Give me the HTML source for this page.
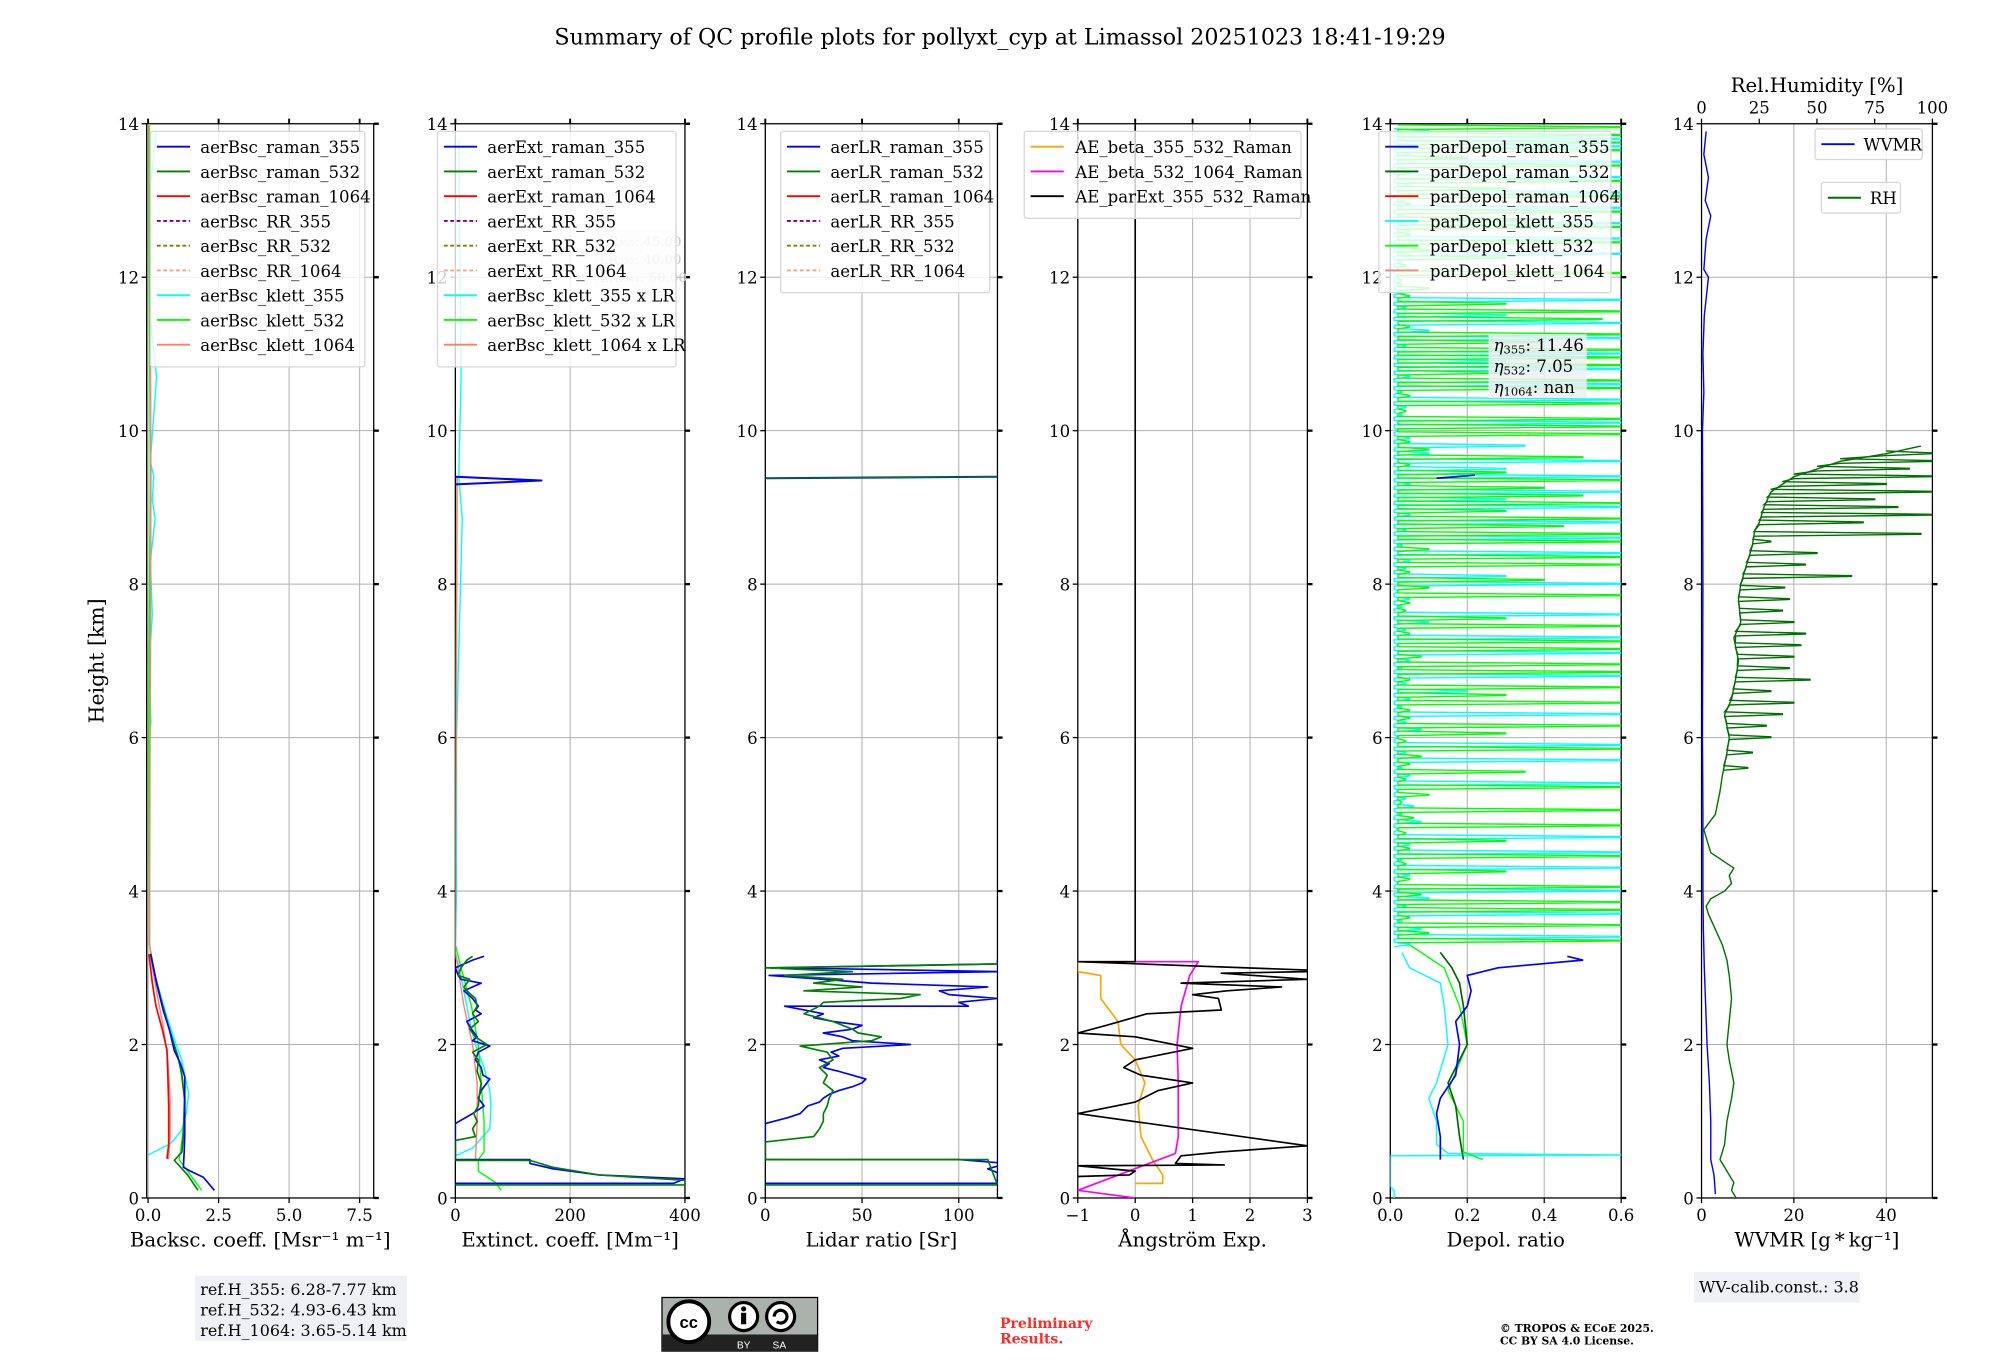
<!DOCTYPE html>
<html><head><meta charset="utf-8">
<style>
html,body{margin:0;padding:0;background:#fff;}
svg{display:block;font-family:"DejaVu Serif","Liberation Serif",serif;}
</style></head>
<body>
<svg id="fig" width="2000" height="1360" viewBox="0 0 1568 1066" preserveAspectRatio="none" xmlns="http://www.w3.org/2000/svg">
<rect x="0" y="0" width="1568" height="1066" fill="#fff"/>
<text x="784" y="35" font-size="17.4" text-anchor="middle">Summary of QC profile plots for pollyxt_cyp at Limassol 20251023 18:41-19:29</text>
<text x="0" y="0" font-size="16" text-anchor="middle" transform="translate(81,518) rotate(-90)">Height [km]</text>
<g id="plots"></g>
<g>
<rect x="153" y="1000" width="166" height="51" fill="#eff0f5"/>
<text x="157" y="1015" font-size="12.5">ref.H_355: 6.28-7.77 km</text>
<text x="157" y="1031" font-size="12.5">ref.H_532: 4.93-6.43 km</text>
<text x="157" y="1047" font-size="12.5">ref.H_1064: 3.65-5.14 km</text>
</g>
<g>
<rect x="519" y="1017" width="122" height="42" fill="#aab2ab" stroke="#000" stroke-width="1"/>
<rect x="519" y="1046" width="122" height="13" fill="#222"/>
<circle cx="540" cy="1036" r="16" fill="#fff" stroke="#000" stroke-width="3"/>
<text x="540" y="1041" font-size="13" font-weight="bold" text-anchor="middle" font-family="Liberation Sans, sans-serif">cc</text>
<circle cx="583" cy="1032" r="11" fill="#fff" stroke="#000" stroke-width="2.5"/>
<circle cx="583" cy="1026" r="2" fill="#000"/><rect x="581" y="1029" width="4" height="9" fill="#000"/>
<circle cx="612" cy="1032" r="11" fill="#fff" stroke="#000" stroke-width="2.5"/>
<path d="M607 1032 a5 5 0 1 1 2 4" fill="none" stroke="#000" stroke-width="2.5"/>
<text x="583" y="1057" font-size="8" fill="#fff" text-anchor="middle" font-family="Liberation Sans, sans-serif">BY</text>
<text x="611" y="1057" font-size="8" fill="#fff" text-anchor="middle" font-family="Liberation Sans, sans-serif">SA</text>
</g>
<text font-size="11" font-weight="bold" fill="#ff2a2a"><tspan x="784" y="1041">Preliminary</tspan><tspan x="784" y="1053">Results.</tspan></text>
<text font-size="8.5" font-weight="bold"><tspan x="1176" y="1044">© TROPOS &amp; ECoE 2025.</tspan><tspan x="1176" y="1054">CC BY SA 4.0 License.</tspan></text>
<g>
<rect x="1328" y="997" width="130" height="24" fill="#eff0f5"/>
<text x="1332" y="1013" font-size="12.5">WV-calib.const.: 3.8</text>
</g>
</svg>
<script>
// ---------- data ----------
const heightTicks=[0,2,4,6,8,10,12,14];
const bscTicks=[0,2.5,5,7.5], bscTickLabels=["0.0","2.5","5.0","7.5"];
const extTicks=[0,200,400], extTickLabels=["0","200","400"];
const lrTicks=[0,50,100], lrTickLabels=["0","50","100"];
const aeTicks=[-1,0,1,2,3], aeTickLabels=["\u22121","0","1","2","3"];
const dpTicks=[0,0.2,0.4,0.6], dpTickLabels=["0.0","0.2","0.4","0.6"];
const wvTicks=[0,20,40], wvTickLabels=["0","20","40"];
const rhTicks=[0,25,50,75,100], rhTickLabels=["0","25","50","75","100"];

// backscatter [Mm-1 sr-1]
const bsc355H=[0.1,0.27,0.35,0.4,0.6,0.84,1.2,1.58,1.75,1.92,2.2,2.44,2.8,3.18];
const bsc355V=[2.35,1.96,1.5,1.25,1.28,1.3,1.3,1.3,1.15,0.93,0.75,0.54,0.3,0.09];
const bsc532H=[0.1,0.3,0.49,0.6,0.84,1.27,1.6,1.84,2.2,2.6,2.9,3.18];
const bsc532V=[1.77,1.4,0.93,1.2,1.25,1.3,1.2,1.06,0.75,0.45,0.25,0.09];
const bsc1064H=[0.51,0.7,1.2,1.6,1.93,2.2,2.5,2.8,3.18];
const bsc1064V=[0.67,0.73,0.73,0.7,0.67,0.5,0.28,0.15,0.03];
const bscK355H=[0.56,0.71,0.88,1.1,1.36,1.6,1.8,2.1,2.36,2.7,3.0,3.3,4,5,6,6.2,7,7.6,8.3,8.85,9.1,9.4,9.6,10.7,11.5,12.5,13.2,13.9];
const bscK355V=[0,0.8,1.19,1.35,1.44,1.3,1.19,0.9,0.67,0.4,0.15,0.05,0.05,0.04,0.05,0.1,0.04,0.15,0.08,0.25,0.15,0.2,0.08,0.3,0.06,0.1,0.08,0.3];
const bscK532H=[0.1,0.3,0.5,0.6,0.9,1.3,1.7,2.1,2.5,2.9,3.3,6,9.4,14];
const bscK532V=[1.9,1.5,1.1,1.15,1.25,1.28,1.15,0.85,0.5,0.25,0.05,0.02,0.08,0.02];
const bscK1064H=[0.5,0.8,1.3,1.8,2.2,2.6,3.0,3.3,9.4,14];
const bscK1064V=[0.72,0.78,0.78,0.7,0.55,0.35,0.15,0.05,0.1,0.05];

// extinction [Mm-1]
const ext355H=[0.19,0.19,0.25,0.3,0.38,0.45,0.5,0.5,0.97,1.1,1.2,1.3,1.4,1.5,1.55,1.6,1.7,1.8,1.9,1.98,2.05,2.1,2.2,2.3,2.4,2.45,2.5,2.6,2.7,2.8,2.85,2.9,3.0,3.1,3.15];
const ext355V=[0,380,400,250,170,130,130,0,0,30,50,40,45,55,60,48,45,35,40,60,30,38,28,20,45,35,40,30,15,45,10,5,0,30,50];
const ext532H=[0.17,0.17,0.23,0.3,0.4,0.49,0.49,0.75,0.8,0.9,1.0,1.1,1.2,1.35,1.5,1.65,1.8,1.9,2.0,2.1,2.2,2.3,2.4,2.5,2.6,2.7,2.75,2.85,2.9,3.0,3.1,3.15];
const ext532V=[0,400,400,250,170,130,0,0,35,30,38,32,40,42,45,38,40,30,55,35,25,40,30,38,35,20,15,25,5,10,20,30];
const ext9H=[9.3,9.35,9.4], ext9V=[0,150,0];
const extK355H=[0.55,0.65,0.9,1.2,1.4,1.7,2.0,2.3,2.5,2.8,3.2,4,6,8.85,9.4,10.7,13.8];
const extK355V=[0,30,60,62,60,50,35,25,20,12,0,2,2,12,6,10,6];
const extK532H=[0.1,0.2,0.35,0.5,0.6,1.0,1.5,2.0,2.5,3.0,3.3,9.4];
const extK532V=[80,70,40,40,50,50,45,40,28,10,0,3];
const extK1064H=[0.5,1.0,1.5,2.0,2.5,3.2,9.4];
const extK1064V=[35,38,38,30,15,0,3];

// lidar ratio [sr]
const lr355H=[0.19,0.19,0.33,0.38,0.45,0.5,0.5,0.97,1.05,1.1,1.2,1.25,1.3,1.35,1.4,1.45,1.5,1.55,1.6,1.65,1.7,1.75,1.8,1.85,1.9,1.95,2.0,2.05,2.1,2.15,2.2,2.25,2.3,2.35,2.4,2.45,2.5,2.5,2.55,2.6,2.65,2.7,2.75,2.8,2.85,2.9,2.95,3.0,3.05,3.1];
const lr355V=[0,120,120,115,125,100,0,0,12,18,22,28,30,33,38,45,50,52,45,38,30,33,28,38,34,40,75,45,40,30,45,50,35,25,30,20,10,105,100,120,95,90,115,55,30,2,120,8,120,120];
const lr532H=[0.17,0.17,0.5,0.5,0.73,0.8,0.9,1.0,1.1,1.2,1.3,1.4,1.5,1.6,1.7,1.8,1.9,1.98,2.05,2.1,2.15,2.2,2.3,2.4,2.5,2.55,2.6,2.65,2.7,2.75,2.8,2.85,2.9,2.95,3.0,3.05];
const lr532V=[0,120,115,0,0,25,28,30,30,32,33,35,30,32,28,35,32,18,55,60,48,45,35,20,28,30,70,80,20,50,25,40,10,45,0,120];
const lr9H=[9.38,9.4], lr9V=[0,120];

// Angstrom exponents
const aeB355H=[0.19,0.19,0.3,0.5,0.8,1.2,1.5,1.8,2.0,2.3,2.6,2.9,2.95,3.08,3.08];
const aeB355V=[0,0.48,0.48,0.3,0.1,0.05,0.17,0.0,-0.25,-0.3,-0.6,-0.6,-1,-1,0];
const aeB532H=[0,0.1,0.1,0.58,0.8,1.5,2.0,2.5,2.9,3.08,3.08];
const aeB532V=[0,-1,-1,0.7,0.75,0.75,0.73,0.8,0.95,1.1,0];
const aeExtH=[0.28,0.3,0.35,0.42,0.42,0.43,0.45,0.55,0.6,0.68,1.1,1.25,1.4,1.5,1.6,1.7,1.8,1.95,2.1,2.15,2.25,2.4,2.45,2.6,2.65,2.7,2.75,2.8,2.85,2.93,2.95,2.97,3.08,3.08,14];
const aeExtV=[-1,-0.1,0,-1,-1,1.55,0.7,0.8,1.5,3,-1,0,0.4,1.0,0.1,-0.2,0,1.0,0,-1,-0.5,0.2,1.5,1.45,1.0,1.6,2.55,0.8,3,1.5,3,3,-1,0,0];

// depolarization
const dp355H=[0.5,0.8,1.1,1.3,1.6,2.0,2.3,2.5,2.7,2.9,3.0,3.1,3.15];
const dp355V=[0.13,0.13,0.12,0.13,0.17,0.18,0.17,0.2,0.21,0.2,0.28,0.5,0.46];
const dp532H=[0.5,0.8,1.2,1.5,2.0,2.5,2.8,3.0,3.2];
const dp532V=[0.19,0.18,0.17,0.15,0.2,0.19,0.18,0.16,0.13];
const dpK355H=[0,0.1,0.15,0.55,0.56,0.58,0.7,1.0,1.3,1.5,2.0,2.5,2.8,3.0,3.2];
const dpK355V=[0.01,0.01,0.0,0.0,0.6,0.15,0.12,0.12,0.1,0.12,0.15,0.14,0.13,0.05,0.03];
const dpK532H=[0.5,0.6,1.0,1.4,2.0,2.5,3.0,3.3];
const dpK532V=[0.24,0.19,0.19,0.15,0.2,0.18,0.14,0.05];
const dpSpikeH0=3.3, dpSpikeStep=0.1;
const dpK355Spikes=[0.05,0.6,0.08,0.03,0.6,0.04,0.1,0.6,0.02,0.05,
0.6,0.03,0.6,0.05,0.6,0.02,0.08,0.03,0.06,0.04,
0.02,0.6,0.05,0.03,0.6,0.04,0.6,0.02,0.08,0.04,
0.6,0.03,0.05,0.2,0.04,0.6,0.03,0.05,0.6,0.02,
0.6,0.04,0.1,0.6,0.03,0.05,0.02,0.6,0.3,0.04,
0.05,0.6,0.03,0.6,0.04,0.6,0.05,0.6,0.3,0.6,
0.05,0.6,0.3,0.6,0.1,0.35,0.05,0.02,0.6,0.03,
0.04,0.6,0.03,0.6,0.05,0.6,0.3,0.6,0.04,0.6,
0.1,0.6,0.3,0.04,0.6,0.05,0.03,0.02,0.05,0.03,
0.6,0.04,0.6,0.05,0.6,0.03,0.6,0.04,0.6,0.05,
0.6,0.04,0.6,0.05,0.6,0.6,0.1];
const dpK532Spikes=[0.6,0.1,0.6,0.05,0.6,0.6,0.08,0.6,0.05,0.3,
0.04,0.6,0.05,0.3,0.04,0.6,0.06,0.6,0.03,0.1,
0.6,0.04,0.35,0.05,0.08,0.6,0.04,0.3,0.6,0.05,
0.05,0.6,0.3,0.6,0.05,0.6,0.6,0.08,0.6,0.6,
0.05,0.6,0.3,0.04,0.05,0.6,0.1,0.4,0.05,0.6,
0.6,0.1,0.6,0.6,0.45,0.6,0.3,0.6,0.5,0.4,
0.6,0.3,0.05,0.5,0.1,0.05,0.6,0.6,0.6,0.04,
0.6,0.05,0.6,0.6,0.3,0.6,0.6,0.6,0.4,0.6,
0.05,0.55,0.6,0.3,0.05,0.1,0.03,0.6,0.04,0.3,
0.1,0.6,0.05,0.6,0.4,0.6,0.05,0.6,0.3,0.6,
0.05,0.6,0.2,0.6,0.6,0.6,0.6];
const dpBlue9H=[9.38,9.42], dpBlue9V=[0.12,0.22];

// water vapour
const wvH=[0.05,0.3,0.5,0.8,1.0,1.5,2.0,2.5,3.0,3.5,4.0,5.0,6.0,8.0,10.0,10.5,11,11.5,12,12.1,12.5,12.8,13,13.3,13.6,13.9];
const wvV=[3,2.7,2.0,2.0,2.0,1.7,1.2,0.9,0.6,0.4,0.3,0.3,0.2,0.3,0.2,0.5,0.3,0.6,1.5,0.5,1.0,2.0,0.8,1.5,0.5,1.0];
// relative humidity [%]
const rhBaseH=[0,0.1,0.2,0.3,0.5,0.7,1.0,1.3,1.5,1.8,2.0,2.3,2.6,2.9,3.1,3.3,3.5,3.7,3.8,3.9,4.0,4.1,4.2,4.3,4.5,4.7,4.8,5.0,5.3,5.5,5.8,6.0,6.3,6.5,6.8,7.0,7.3,7.5,7.8,8.0,8.3,8.5,8.7,8.8,9.0,9.2,9.4,9.6,9.7,9.8];
const rhBaseV=[15,13,14,12,8,10,11,13,14,12,11,12,13,12,11,9,6,3,2,4,10,13,12,14,4,2,1,6,8,9,11,12,10,13,15,16,14,17,16,17,20,22,23,25,27,30,40,60,80,95];
const rhSpikeH=[5.6,5.8,6.0,6.15,6.3,6.45,6.6,6.75,6.9,7.05,7.2,7.35,7.5,7.65,7.8,7.95,8.1,8.25,8.4,8.55,8.65,8.8,8.9,9.0,9.1,9.2,9.3,9.4,9.5,9.6,9.7];
const rhSpikeV=[20,22,30,28,35,40,30,47,38,40,43,45,40,35,38,36,65,45,50,30,95,70,100,85,75,100,80,100,90,100,100];

// ---------- drawing ----------
const NS="http://www.w3.org/2000/svg";
const root=document.getElementById('plots');
const Y0=939, YT=97;
function yScale(h){return Y0-h*(Y0-YT)/14;}
function mk(tag,attrs,parent){const e=document.createElementNS(NS,tag);for(const k in attrs)e.setAttribute(k,attrs[k]);(parent||root).appendChild(e);return e;}

const panels=[
 {x0:115,x1:293,min:-0.05,max:8,ticks:bscTicks,labels:bscTickLabels,xlabel:"Backsc. coeff. [Msr\u207B\u00B9 m\u207B\u00B9]",name:"backscatter"},
 {x0:357,x1:537,min:0,max:400,ticks:extTicks,labels:extTickLabels,xlabel:"Extinct. coeff. [Mm\u207B\u00B9]",name:"extinction"},
 {x0:600,x1:782,min:0,max:120,ticks:lrTicks,labels:lrTickLabels,xlabel:"Lidar ratio [Sr]",name:"lidar-ratio"},
 {x0:845,x1:1025,min:-1,max:3,ticks:aeTicks,labels:aeTickLabels,xlabel:"\u00C5ngstr\u00F6m Exp.",name:"angstrom"},
 {x0:1090,x1:1271,min:0,max:0.6,ticks:dpTicks,labels:dpTickLabels,xlabel:"Depol. ratio",name:"depol"},
 {x0:1334,x1:1515,min:0,max:50,ticks:wvTicks,labels:wvTickLabels,xlabel:"WVMR [g\u2009*\u2009kg\u207B\u00B9]",name:"wvmr"}
];
function xs(p,v){return p.x0+(v-p.min)/(p.max-p.min)*(p.x1-p.x0);}

const defs=mk('defs',{});
panels.forEach((p,i)=>{
  const cp=mk('clipPath',{id:'clip'+i},defs);
  mk('rect',{x:p.x0,y:YT,width:p.x1-p.x0,height:Y0-YT},cp);
});

function line(pi,H,V,color,name,w){
  const p=panels[pi];
  const pts=H.map((h,k)=>xs(p,V[k]).toFixed(2)+','+yScale(h).toFixed(2)).join(' ');
  const el=mk('polyline',{points:pts,fill:'none',stroke:color,'stroke-width':w||1.3,'clip-path':'url(#clip'+pi+')','stroke-linejoin':'round'});
  
  
}
function spikesAt(pi,H,V,baseFn,color,name){
  const p=panels[pi];const pts=[];
  V.forEach((v,k)=>{const h=H[k];const b=baseFn(h);
    pts.push(xs(p,b)+','+yScale(h-0.025));
    pts.push(xs(p,v)+','+yScale(h));
    pts.push(xs(p,v)+','+yScale(h+0.01));
    pts.push(xs(p,b)+','+yScale(h+0.035));
  });
  const el=mk('polyline',{points:pts.join(' '),fill:'none',stroke:color,'stroke-width':1.1,'clip-path':'url(#clip'+pi+')'});
  
  
}
function interp(H,V){return h=>{for(let k=1;k<H.length;k++){if(h<=H[k]){const t=(h-H[k-1])/(H[k]-H[k-1]);return V[k-1]+t*(V[k]-V[k-1]);}}return V[V.length-1];};}

// axes frames, grids, ticks
panels.forEach((p,i)=>{
  const g=mk('g',{});
  
  
  p.ticks.forEach((t,k)=>{
    const x=xs(p,t);
    mk('line',{x1:x,y1:YT,x2:x,y2:Y0,stroke:'#b0b0b0','stroke-width':0.8},g);
    mk('line',{x1:x,y1:Y0,x2:x,y2:Y0+4,stroke:'#000','stroke-width':1},g);
    if(i<5) mk('line',{x1:x,y1:YT,x2:x,y2:YT-4,stroke:'#000','stroke-width':1.5},g);
    const tl=mk('text',{x:x,y:Y0+18,'font-size':13,'text-anchor':'middle'},g);
    tl.textContent=p.labels[k];
  });
  heightTicks.forEach(h=>{
    const y=yScale(h);
    if(h>0&&h<14) mk('line',{x1:p.x0,y1:y,x2:p.x1,y2:y,stroke:'#b0b0b0','stroke-width':0.8},g);
    mk('line',{x1:p.x0-4,y1:y,x2:p.x0,y2:y,stroke:'#000','stroke-width':1},g);
    mk('line',{x1:p.x1,y1:y,x2:p.x1+4,y2:y,stroke:'#000','stroke-width':1.8},g);
    const tl=mk('text',{x:p.x0-6,y:y+5,'font-size':13,'text-anchor':'end'},g);
    tl.textContent=h;
  });
  mk('rect',{x:p.x0,y:YT,width:p.x1-p.x0,height:Y0-YT,fill:'none',stroke:'#000','stroke-width':1},g);
  const xl=mk('text',{x:(p.x0+p.x1)/2,y:Y0+38,'font-size':15.5,'text-anchor':'middle'},g);
  xl.textContent=p.xlabel;
  
  
});
// RH top axis
(function(){
  const p=panels[5];
  rhTicks.forEach((t,k)=>{
    const x=p.x0+t/100*(p.x1-p.x0);
    mk('line',{x1:x,y1:YT,x2:x,y2:YT-4,stroke:'#000','stroke-width':1});
    const tl=mk('text',{x:x,y:YT-8,'font-size':13,'text-anchor':'middle'});
    tl.textContent=rhTickLabels[k];
  });
  const t=mk('text',{x:(p.x0+p.x1)/2,y:YT-25,'font-size':15.5,'text-anchor':'middle'});
  t.textContent="Rel.Humidity [%]";
  
  
})();

// panel 1
line(0,bscK355H,bscK355V,'#00ffff','bsc-klett-355',1.1);
line(0,bscK532H,bscK532V,'#00ff00','bsc-klett-532',1.1);
line(0,bscK1064H,bscK1064V,'#ff8070','bsc-klett-1064',1.1);
line(0,bsc1064H,bsc1064V,'#ff0000','bsc-raman-1064');
line(0,bsc532H,bsc532V,'#008000','bsc-raman-532');
line(0,bsc355H,bsc355V,'#0000ff','bsc-raman-355');
// panel 2
line(1,extK355H,extK355V,'#00ffff','ext-klett-355',1.1);
line(1,extK532H,extK532V,'#00ff00','ext-klett-532',1.1);
line(1,extK1064H,extK1064V,'#ff8070','ext-klett-1064',1.1);
line(1,ext355H,ext355V,'#0000ff','ext-raman-355');
line(1,ext9H,ext9V,'#0000ff','ext-raman-355-cirrus',1.6);
line(1,ext532H,ext532V,'#008000','ext-raman-532');
// panel 3
line(2,lr355H,lr355V,'#0000ff','lr-raman-355');
line(2,lr9H,lr9V,'#0000ff','lr-raman-355-cirrus',1.6);
line(2,lr532H,lr532V,'#008000','lr-raman-532');
line(2,lr9H,lr9V,'#008000','lr-raman-532-cirrus',1.0);
// panel 4
line(3,aeB355H,aeB355V,'#ffa500','ae-beta-355-532');
line(3,aeB532H,aeB532V,'#ff00ff','ae-beta-532-1064');
line(3,aeExtH,aeExtV,'#000000','ae-parext-355-532');
// panel 5
const dpH355=dpK355Spikes.map((v,k)=>dpSpikeH0+k*dpSpikeStep);
const dpH532=dpK532Spikes.map((v,k)=>dpSpikeH0+0.05+k*dpSpikeStep);
spikesAt(4,dpH355,dpK355Spikes,h=>0.01,'#00ffff','depol-klett-355-spikes');
spikesAt(4,dpH532,dpK532Spikes,h=>0.02,'#00ff00','depol-klett-532-spikes');
line(4,dpK355H,dpK355V,'#00ffff','depol-klett-355',1.1);
line(4,dpK532H,dpK532V,'#00ff00','depol-klett-532',1.1);
line(4,dp532H,dp532V,'#006400','depol-raman-532');
line(4,dp355H,dp355V,'#0000ff','depol-raman-355');
line(4,dpBlue9H,dpBlue9V,'#0000ff','depol-raman-355-cirrus');
// panel 6
line(5,wvH,wvV,'#0000ff','wvmr-profile',1.1);
(function(){
  // RH 0-100 % mapped onto the 0-50 bottom range (same pixel span as top axis)
  const bV=rhBaseV.map(v=>v*0.5);
  line(5,rhBaseH,bV,'#007000','rh-profile',1.1);
  const sV=rhSpikeV.map(v=>v*0.5);
  spikesAt(5,rhSpikeH,sV,interp(rhBaseH,bV),'#007000','rh-spikes');
})();

// legends
function legend(x,y,w,rowH,items,name,textX){
  const g=mk('g',{});
  
  
  mk('rect',{x:x,y:y,width:w,height:rowH*items.length+10,fill:'#fff','fill-opacity':0.8,stroke:'#d6d6d6','stroke-width':1,rx:2},g);
  items.forEach((it,k)=>{
    const cy=y+12+k*rowH;
    mk('line',{x1:x+5,y1:cy,x2:x+31,y2:cy,stroke:it[1],'stroke-width':1.5,'stroke-dasharray':it[2]?'3,2':'none'},g);
    const t=mk('text',{x:textX,y:cy+5,'font-size':13},g);
    t.textContent=it[0];
  });
}
legend(118,103,168,19.4,[["aerBsc_raman_355","#0000ff"],["aerBsc_raman_532","#008000"],["aerBsc_raman_1064","#ff0000"],["aerBsc_RR_355","#800080",1],["aerBsc_RR_532","#808000",1],["aerBsc_RR_1064","#ffa07a",1],["aerBsc_klett_355","#00ffff"],["aerBsc_klett_532","#00ff00"],["aerBsc_klett_1064","#fa8072"]],'bsc-legend',157);
(function(){
  const g=mk('g',{});
  
  
  mk('rect',{x:466,y:180,width:64,height:46,fill:'#eef0f5','fill-opacity':0.6},g);
  ["LR\u2083\u2085\u2085: 45.00","LR\u2085\u2083\u2082: 40.00","LR\u2081\u2080\u2086\u2084: 50.00"].forEach((s,k)=>{
    const t=mk('text',{x:470,y:193+k*14,'font-size':10.5,fill:'#c8c8c8'},g);t.textContent=s;});
})();
legend(343,103,187,19.4,[["aerExt_raman_355","#0000ff"],["aerExt_raman_532","#008000"],["aerExt_raman_1064","#ff0000"],["aerExt_RR_355","#800080",1],["aerExt_RR_532","#808000",1],["aerExt_RR_1064","#ffa07a",1],["aerBsc_klett_355 x LR","#00ffff"],["aerBsc_klett_532 x LR","#00ff00"],["aerBsc_klett_1064 x LR","#fa8072"]],'ext-legend',382);
legend(612,103,164,19.4,[["aerLR_raman_355","#0000ff"],["aerLR_raman_532","#008000"],["aerLR_raman_1064","#ff0000"],["aerLR_RR_355","#800080",1],["aerLR_RR_532","#808000",1],["aerLR_RR_1064","#ffa07a",1]],'lr-legend',651);
legend(803,103,217,19.4,[["AE_beta_355_532_Raman","#ffa500"],["AE_beta_532_1064_Raman","#ff00ff"],["AE_parExt_355_532_Raman","#000000"]],'ae-legend',843);
legend(1081,103,182,19.4,[["parDepol_raman_355","#0000ff"],["parDepol_raman_532","#006400"],["parDepol_raman_1064","#ff0000"],["parDepol_klett_355","#00ffff"],["parDepol_klett_532","#00ff00"],["parDepol_klett_1064","#fa8072"]],'depol-legend',1121);
(function(){
  const g=mk('g',{});
  
  
  mk('rect',{x:1167,y:262,width:77,height:50,fill:'#eef0f5','fill-opacity':0.85},g);
  [["\u03B7","355",": 11.46"],["\u03B7","532",": 7.05"],["\u03B7","1064",": nan"]].forEach((s,k)=>{
    const t=mk('text',{x:1171,y:275+k*16.5,'font-size':13},g);
    const a=mk('tspan',{'font-style':'italic'},t);a.textContent=s[0];
    const b=mk('tspan',{'font-size':9,dy:2},t);b.textContent=s[1];
    const c=mk('tspan',{dy:-2},t);c.textContent=s[2];
  });
})();
legend(1423,101,84,14,[["WVMR","#0000ff"]],'wvmr-legend',1461);
legend(1428,143,62,14,[["RH","#007000"]],'rh-legend',1466);
</script>
</body></html>
